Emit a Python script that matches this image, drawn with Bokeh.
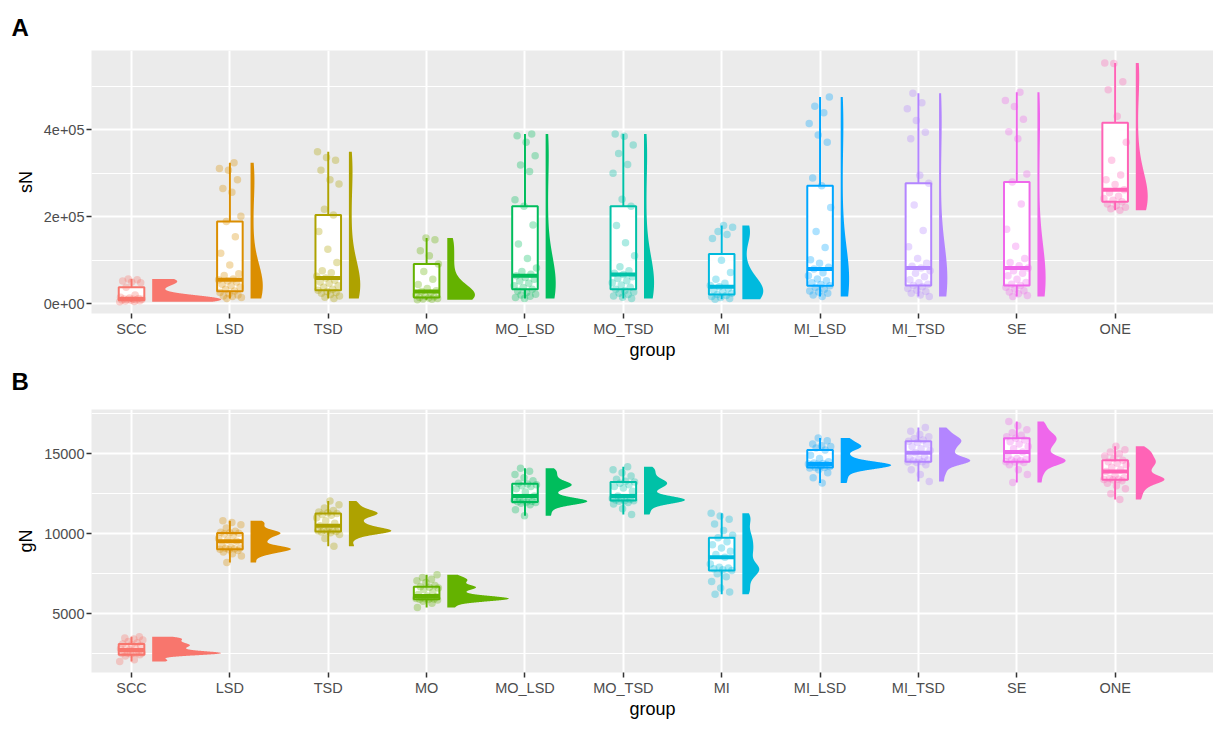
import numpy as np
from bokeh.plotting import figure
from bokeh.models import Range1d, FixedTicker, Title
from bokeh.layouts import column
from bokeh.embed import file_html
from bokeh.resources import INLINE

groups = ["SCC", "LSD", "TSD", "MO", "MO_LSD", "MO_TSD", "MI", "MI_LSD", "MI_TSD", "SE", "ONE"]
colors = ["#F8766D", "#DB8E00", "#AEA200", "#64B200", "#00BD5C", "#00C1A7",
          "#00BADE", "#00A6FF", "#B385FF", "#EF67EB", "#FF63B6"]

# ---------------- Panel A: sN (values in thousands) ----------------
sN_SCC = [4.5, 5, 6, 7, 8, 8.5, 9, 9.5, 10, 10.5, 11, 12, 13, 15, 20, 38, 48, 50, 52, 55, 57]
sN_LSD = [12, 14, 16.5, 18, 20, 23, 26, 29, 33, 38, 41, 45, 50, 52, 55, 57, 65, 69, 89, 116, 154, 189,
          201, 256, 265, 285, 307, 311, 324]
sN_TSD = [12, 15, 18, 21, 24, 26, 28, 31, 33, 38, 41, 47, 50, 54, 59, 63, 71, 76, 95, 125, 166, 204,
          217, 275, 285, 307, 330, 336, 349]
sN_MO = [9, 10, 11, 12, 13, 14.3, 16, 18, 20, 24, 27.8, 30, 35, 44, 56, 74, 91, 110, 122, 147, 151]
sN_MO_LSD = [12, 14, 17, 20, 22, 26, 29, 33, 37, 41, 47, 52, 56, 60, 64, 68, 74, 82, 104, 137, 181, 224,
             239, 304, 319, 340, 371, 386, 390]
sN_MO_TSD = [12, 15, 18, 21, 24, 27, 30, 33, 38, 43, 48, 53, 58, 62, 67, 70, 76, 85, 110, 140, 180, 224,
             240, 300, 320, 345, 365, 385, 390]
sN_MI = [10.5, 12, 14, 16.5, 19, 21, 24, 27, 31, 35, 39, 42, 47, 56, 72, 100, 150, 159, 166, 176, 180]
sN_MI_LSD = [16.5, 20, 24, 27, 29, 33, 37, 41, 44, 48, 53, 57, 64, 71, 80, 84, 93, 101, 129, 166, 221, 271,
             289, 371, 388, 414, 439, 454, 475]
sN_MI_TSD = [16.5, 20, 24, 28, 31, 35, 39, 42, 45, 48, 55, 62, 70, 76, 82, 86, 93, 104, 131, 168, 227, 277,
             295, 379, 394, 421, 448, 462, 484]
sN_SE = [16.5, 19, 23, 27, 30, 34, 38, 42, 45, 49, 56, 64, 70, 76, 82, 87, 95, 104, 132, 171, 229, 280,
         298, 379, 395, 424, 453, 467, 486]
sN_ONE = [215, 218, 222, 226, 229, 234.5, 238, 242, 247, 255, 262, 274, 285, 296, 330, 371, 431, 492, 510, 552, 553]

sN_lo = [4.5, 12, 12, 9, 12, 12, 10.5, 16.5, 16.5, 16.5, 215]
sN_q1 = [8, 28.6, 31, 14.3, 33, 33, 21, 41, 42, 42, 234.5]
sN_med = [11, 55, 59, 28, 64, 67, 39, 80, 82, 82, 262]
sN_q3 = [38, 189, 204, 91, 224, 224, 114, 271, 277, 280, 416]
sN_hi = [57, 324, 349, 151, 390, 390, 180, 475, 484, 486, 553]

# ---------------- Panel B: gN ----------------
gN_SCC = [2014, 2120, 2350, 2430, 2470, 2500, 2520, 2530, 2540, 2560, 2600, 2650, 2730, 2800, 2870,
          2950, 3000, 3050, 3100, 3180, 3250, 3350, 3420, 3480, 3548]
gN_LSD = [8190, 8600, 8750, 8850, 8950, 9000, 9030, 9050, 9080, 9100, 9150, 9250, 9520, 9600, 9700,
          9900, 9980, 10020, 10050, 10080, 10150, 10350, 10550, 10700, 10810]
gN_TSD = [9213, 9700, 9950, 10050, 10100, 10130, 10150, 10180, 10200, 10230, 10300, 10400, 10500, 10650,
          10800, 11000, 11150, 11200, 11260, 11300, 11350, 11450, 11600, 11800, 12035]
gN_MO = [5390, 5650, 5780, 5850, 5880, 5900, 5910, 5930, 5950, 5970, 6000, 6050, 6100, 6200, 6350,
         6500, 6600, 6650, 6680, 6750, 6950, 7050, 7150, 7250, 7434]
gN_MO_LSD = [11115, 11500, 11800, 11900, 11950, 11980, 12000, 12030, 12060, 12080, 12100, 12150, 12350,
             12600, 12800, 12950, 13000, 13050, 13100, 13150, 13300, 13500, 13700, 13900, 14080]
gN_MO_TSD = [11200, 11550, 11850, 11950, 12020, 12060, 12075, 12100, 12130, 12160, 12200, 12250, 12350,
             12650, 12850, 12950, 13050, 13150, 13220, 13280, 13400, 13600, 13800, 14000, 14182]
gN_MI = [6209, 6350, 6600, 7000, 7300, 7500, 7700, 7750, 7800, 7850, 7900, 8100, 8518, 8700, 8900,
         9100, 9300, 9500, 9744, 9900, 10200, 10600, 10900, 11100, 11278]
gN_MI_LSD = [13160, 13500, 13800, 14000, 14100, 14130, 14141, 14200, 14250, 14300, 14320, 14340, 14350,
             14380, 14420, 14500, 14700, 14900, 15230, 15350, 15450, 15500, 15600, 15800, 15982]
gN_MI_TSD = [13262, 13700, 14000, 14300, 14450, 14480, 14489, 14550, 14600, 14650, 14700, 14800, 15050,
             15200, 15300, 15450, 15600, 15700, 15778, 15850, 15950, 16050, 16200, 16400, 16636]
gN_SE = [13200, 13700, 14000, 14300, 14450, 14480, 14489, 14550, 14600, 14650, 14700, 14850, 15100,
         15300, 15450, 15600, 15750, 15850, 15962, 16050, 16150, 16300, 16500, 16750, 17006]
gN_ONE = [12135, 12500, 12800, 13000, 13150, 13300, 13362, 13380, 13400, 13450, 13500, 13650, 13877,
          14000, 14150, 14300, 14400, 14500, 14590, 14700, 14850, 15000, 15100, 15250, 15470]

gN_lo = [2014, 8190, 9213, 5390, 11115, 11200, 6209, 13160, 13262, 13200, 12135]
gN_q1 = [2423, 9030, 10135, 5902, 11975, 12075, 7700, 14141, 14489, 14489, 13362]
gN_med = [2730, 9520, 10500, 6104, 12350, 12350, 8516, 14350, 15050, 15100, 13877]
gN_q3 = [3098, 10046, 11258, 6676, 13117, 13221, 9744, 15230, 15778, 15962, 14590]
gN_hi = [3548, 10810, 12035, 7434, 14080, 14182, 11278, 15982, 16636, 17006, 15470]

sN_ticks = [0, 200000, 400000]
sN_tick_labels = ["0e+00", "2e+05", "4e+05"]
gN_ticks = [5000, 10000, 15000]
gN_tick_labels = ["5000", "10000", "15000"]

sN_points = [sN_SCC, sN_LSD, sN_TSD, sN_MO, sN_MO_LSD, sN_MO_TSD, sN_MI, sN_MI_LSD, sN_MI_TSD, sN_SE, sN_ONE]
sN_points = [[v * 1000 for v in g] for g in sN_points]
sN_box = [[v * 1000 for v in a] for a in (sN_lo, sN_q1, sN_med, sN_q3, sN_hi)]
gN_points = [gN_SCC, gN_LSD, gN_TSD, gN_MO, gN_MO_LSD, gN_MO_TSD, gN_MI, gN_MI_LSD, gN_MI_TSD, gN_SE, gN_ONE]
gN_box = [gN_lo, gN_q1, gN_med, gN_q3, gN_hi]

FONT = "Liberation Sans"
BOX_HW = 0.13
NUDGE = 0.21
VMAX = 0.70
JIT = 0.12
FRAME_H = 263


def kde(vals, adjust=1.0):
    v = np.asarray(vals, float)
    n = len(v)
    sd = v.std(ddof=1)
    q75, q25 = np.percentile(v, [75, 25])
    lo = min(sd, (q75 - q25) / 1.34)
    bw = 0.9 * lo * n ** -0.2 * adjust
    ys = np.linspace(v.min(), v.max(), 512)
    d = np.exp(-0.5 * ((ys[:, None] - v[None, :]) / bw) ** 2).sum(1) / (n * bw * np.sqrt(2 * np.pi))
    return ys, d


def tag_title(text, standoff, line_height):
    return Title(text=text, align="left", offset=-80, standoff=standoff, vertical_align="top",
                 text_line_height=line_height, text_font=FONT, text_font_size="24px",
                 text_font_style="bold", text_color="black")


def make_panel(points, box, yr, ticks, tick_labels, minor, ytitle, top, adjust):
    p = figure(frame_width=1122, frame_height=FRAME_H, output_backend="svg", toolbar_location=None,
               x_range=Range1d(0.593, 12.0), y_range=Range1d(*yr),
               min_border_left=91, min_border_right=0, min_border_top=top, min_border_bottom=20)
    p.background_fill_color = "#EBEBEB"
    p.border_fill_color = "white"
    p.outline_line_color = None

    xt = FixedTicker(ticks=list(range(1, 12)))
    p.xaxis.ticker = xt
    p.xgrid.ticker = xt
    p.xaxis.major_label_overrides = {i + 1: g for i, g in enumerate(groups)}
    yt = FixedTicker(ticks=ticks, minor_ticks=minor)
    p.yaxis.ticker = yt
    p.ygrid.ticker = yt
    p.yaxis.major_label_overrides = {t: l for t, l in zip(ticks, tick_labels)}

    for g in (p.xgrid, p.ygrid):
        g.grid_line_color = "white"
        g.grid_line_width = 2
    p.ygrid.minor_grid_line_color = "white"
    p.ygrid.minor_grid_line_width = 1

    for ax in (p.xaxis, p.yaxis):
        ax.axis_line_color = None
        ax.major_tick_line_color = "#333333"
        ax.major_tick_line_width = 1.5
        ax.major_tick_out = 5
        ax.major_tick_in = 0
        ax.minor_tick_line_color = None
        ax.major_label_text_font = FONT
        ax.major_label_text_font_size = "14.5px"
        ax.major_label_text_color = "#4D4D4D"
        ax.major_label_standoff = 2
        ax.axis_label_text_font = FONT
        ax.axis_label_text_font_size = "18px"
        ax.axis_label_text_font_style = "normal"
        ax.axis_label_text_color = "black"
    p.xaxis.axis_label = "group"
    p.xaxis.axis_label_standoff = 0
    p.yaxis.axis_label = ytitle
    p.yaxis.axis_label_standoff = 5

    # half violins (area scaled)
    dens = [kde(v, adjust) for v in points]
    dmax = max(d.max() for _, d in dens)
    for i, (ys, d) in enumerate(dens):
        x0 = i + 1 + NUDGE
        p.harea(x1=np.full_like(ys, x0), x2=x0 + d / dmax * VMAX, y=ys,
                fill_color=colors[i], fill_alpha=1.0)

    lo, q1, med, q3, hi = box
    xs = [i + 1 for i in range(len(groups))]
    p.segment(x0=xs, x1=xs, y0=lo, y1=q1, line_color=colors, line_width=2)
    p.segment(x0=xs, x1=xs, y0=q3, y1=hi, line_color=colors, line_width=2)
    p.quad(left=[x - BOX_HW for x in xs], right=[x + BOX_HW for x in xs], bottom=q1, top=q3,
           fill_color="white", line_color=colors, line_width=2)
    p.segment(x0=[x - BOX_HW for x in xs], x1=[x + BOX_HW for x in xs], y0=med, y1=med,
              line_color=colors, line_width=4)

    # jittered points (deterministic jitter pattern)
    for i, vals in enumerate(points):
        n = len(vals)
        offs = [(((k * 0.618034 + i * 0.37) % 1.0) - 0.5) * 2 * JIT for k in range(n)]
        p.scatter(x=[i + 1 + o for o in offs], y=vals, size=7.5, fill_color=colors[i],
                  fill_alpha=0.32, line_color=None)
    return p


pA = make_panel(sN_points, sN_box, (-22500, 582000), sN_ticks, sN_tick_labels,
                [100000, 300000, 500000], "sN", 50, 1.0)
pB = make_panel(gN_points, gN_box, (1319, 17760), gN_ticks, gN_tick_labels,
                [2500, 7500, 12500, 17500], "gN", 7, 0.55)
pA.add_layout(tag_title("A", 15, 1.1), "above")
pA.add_layout(tag_title("B", 11, 0.8), "below")

layout = column(pA, pB)
open("out.html", "w").write(file_html(layout, INLINE))
